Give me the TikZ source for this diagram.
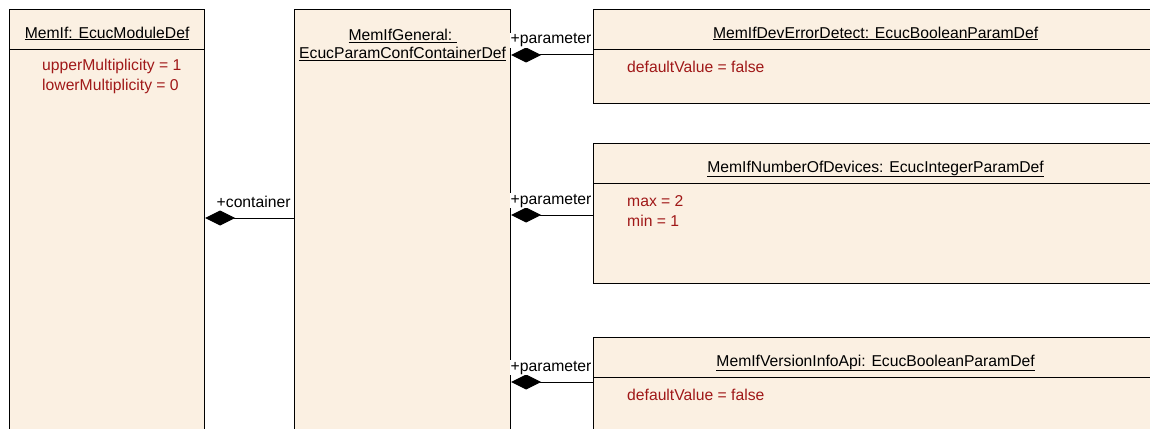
\documentclass[tikz,border=0pt]{standalone}
\usepackage{fontspec}
\setmainfont{Liberation Sans}
\usetikzlibrary{arrows.meta}

\definecolor{umlfill}{RGB}{251,240,226}
\definecolor{umlred}{RGB}{160,24,24}

\tikzset{
  umlbox/.style={draw, line width=1.2pt, fill=umlfill, anchor=north west, inner sep=0pt},
  umltitle/.style={font=\fontsize{15.7}{18}\selectfont, align=center, inner sep=0pt},
  umlattr/.style={font=\fontsize{15.7}{20}\selectfont, text=umlred, align=left, anchor=north west, inner sep=0pt},
  compo/.style={{Diamond[length=30pt,width=15pt]}-, line width=1pt},
  rolename/.style={font=\fontsize{15.7}{18}\selectfont, fill=white, inner sep=1pt},
}

\begin{document}
\begin{tikzpicture}[x=1pt,y=-1pt]
  \useasboundingbox (0,0) rectangle (1150,428);
  \clip (0,0) rectangle (1150,428);

  % classes
  \node[umlbox, minimum width=195pt, minimum height=440pt] (mod) at (9,9) {};
  \node[umlbox, minimum width=216pt, minimum height=440pt] (gen) at (294,9) {};
  \node[umlbox, minimum width=564pt, minimum height=94pt] (dev) at (593,9) {};
  \node[umlbox, minimum width=564pt, minimum height=140pt] (num) at (593,143) {};
  \node[umlbox, minimum width=564pt, minimum height=120pt] (ver) at (593,337) {};

  \foreach \b in {mod,dev,num,ver}
    \draw[line width=1.2pt] ([yshift=-40.5pt]\b.north west) -- ([yshift=-40.5pt]\b.north east);

  % titles
  \node[umltitle, anchor=base] (modtitle) at ([yshift=-29pt]mod.north) {\underline{MemIf: EcucModuleDef}};
  \node[umltitle, anchor=north] (gentitle) at ([yshift=-20pt]gen.north) {\underline{MemIfGeneral:\ }\\\underline{EcucParamConfContainerDef}};
  \node[umltitle, anchor=base] (devtitle) at ([yshift=-29pt]dev.north) {\underline{MemIfDevErrorDetect: EcucBooleanParamDef}};
  \node[umltitle, anchor=base] (numtitle) at ([yshift=-29pt]num.north) {\underline{MemIfNumberOfDevices: EcucIntegerParamDef}};
  \node[umltitle, anchor=base] (vertitle) at ([yshift=-29pt]ver.north) {\underline{MemIfVersionInfoApi: EcucBooleanParamDef}};

  % attributes
  \node[umlattr] (modattr) at ([xshift=33pt,yshift=-50pt]mod.north west) {upperMultiplicity = 1\\lowerMultiplicity = 0};
  \node[umlattr] (devattr) at ([xshift=34pt,yshift=-52pt]dev.north west) {defaultValue = false};
  \node[umlattr] (numattr) at ([xshift=34pt,yshift=-52pt]num.north west) {max = 2\\min = 1};
  \node[umlattr] (verattr) at ([xshift=34pt,yshift=-52pt]ver.north west) {defaultValue = false};

  % compositions
  \coordinate (cont) at (0,218);
  \coordinate (p1) at (0,55);
  \coordinate (p2) at (0,215);
  \coordinate (p3) at (0,382);
  \draw[compo] (mod.east |- cont) -- (gen.west |- cont)
    node[pos=1, rolename, anchor=base east, xshift=-2pt, yshift=11pt] {+container};
  \foreach \b/\y in {dev/p1,num/p2,ver/p3}
    \draw[compo] (gen.east |- \y) -- (\b.west |- \y)
      node[pos=0, rolename, anchor=base west, xshift=-2pt, yshift=11pt] {+parameter};
\end{tikzpicture}
\end{document}
